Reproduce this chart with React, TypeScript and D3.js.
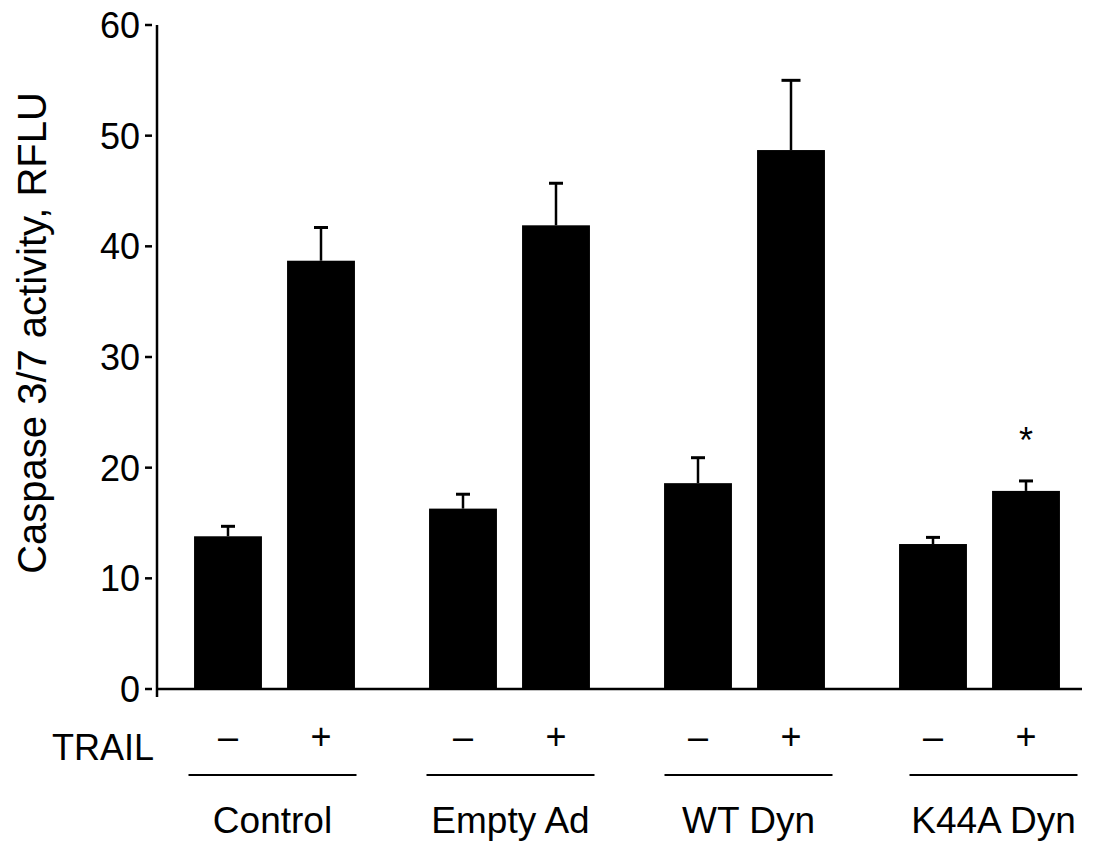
import React from "react";
import * as d3 from "d3";

const groups = ["Control", "Empty Ad", "WT Dyn", "K44A Dyn"];
const conditions = ["–", "+"];
const means = [
  [13.8, 38.7],
  [16.3, 41.9],
  [18.6, 48.7],
  [13.1, 17.9],
];
const errors = [
  [0.9, 3.0],
  [1.3, 3.8],
  [2.3, 6.3],
  [0.6, 0.9],
];
const significant = [
  [false, false],
  [false, false],
  [false, false],
  [false, true],
];
const yTicks = [0, 10, 20, 30, 40, 50, 60];
const yTitle = "Caspase 3/7 activity, RFLU";
const rowLabel = "TRAIL";

const W = 1095;
const H = 848;
const FONT = "'Liberation Sans', Arial, Helvetica, sans-serif";

export default function App() {
  const axisX = 157;
  const y = d3.scaleLinear().domain([0, 60]).range([689, 25]);
  const xg = d3.scaleBand<string>().domain(groups).range([157, 1097]).padding(0);
  const labelShift = [-2, 1, 4, 14];

  return (
    <svg width={W} height={H} style={{ position: "absolute", left: 0, top: 0, background: "#fff" }} fontFamily={FONT}>
      <rect x={0} y={0} width={W} height={H} fill="#fff" />
      {/* y axis */}
      <line x1={axisX} x2={axisX} y1={y(60)} y2={697} stroke="#000" strokeWidth={2.5} />
      {yTicks.map((t) => (
        <g key={t}>
          <line x1={145} x2={152} y1={y(t)} y2={y(t)} stroke="#000" strokeWidth={2.5} />
          <text x={140} y={y(t)} dy="0.36em" textAnchor="end" fontSize={36}>
            {t}
          </text>
        </g>
      ))}
      <text
        transform={`translate(46, 333) rotate(-90)`}
        textAnchor="middle"
        fontSize={40}
      >
        {yTitle}
      </text>
      {/* baseline */}
      <line x1={axisX} x2={1082} y1={y(0)} y2={y(0)} stroke="#000" strokeWidth={2.5} />

      {groups.map((g, gi) => {
        const gc = (xg(g) as number) + xg.bandwidth() / 2;
        const xi = d3
          .scaleBand<string>()
          .domain(conditions)
          .range([gc - 93, gc + 93])
          .paddingInner(0.27)
          .paddingOuter(0.135);
        const lc = gc + labelShift[gi];
        return (
          <g key={g}>
            {conditions.map((c, ci) => {
              const bx = xi(c) as number;
              const bw = xi.bandwidth();
              const cx = bx + bw / 2;
              const v = means[gi][ci];
              const e = errors[gi][ci];
              const capW = e > 5 ? 19 : 14;
              return (
                <g key={c}>
                  <rect x={bx} y={y(v)} width={bw} height={y(0) - y(v)} fill="#000" />
                  <line x1={cx} x2={cx} y1={y(v)} y2={y(v + e)} stroke="#000" strokeWidth={2.5} />
                  <line x1={cx - capW / 2} x2={cx + capW / 2} y1={y(v + e)} y2={y(v + e)} stroke="#000" strokeWidth={3} />
                  {significant[gi][ci] && (
                    <text x={cx} y={y(v + e) - 28} textAnchor="middle" fontSize={36}>
                      *
                    </text>
                  )}
                  <text x={cx} y={749} textAnchor="middle" fontSize={36}>
                    {c}
                  </text>
                </g>
              );
            })}
            <line x1={lc - 84} x2={lc + 84} y1={775} y2={775} stroke="#000" strokeWidth={2} />
            <text x={lc} y={833} textAnchor="middle" fontSize={37}>
              {g}
            </text>
          </g>
        );
      })}
      <text x={52} y={760} fontSize={36}>
        {rowLabel}
      </text>
    </svg>
  );
}
